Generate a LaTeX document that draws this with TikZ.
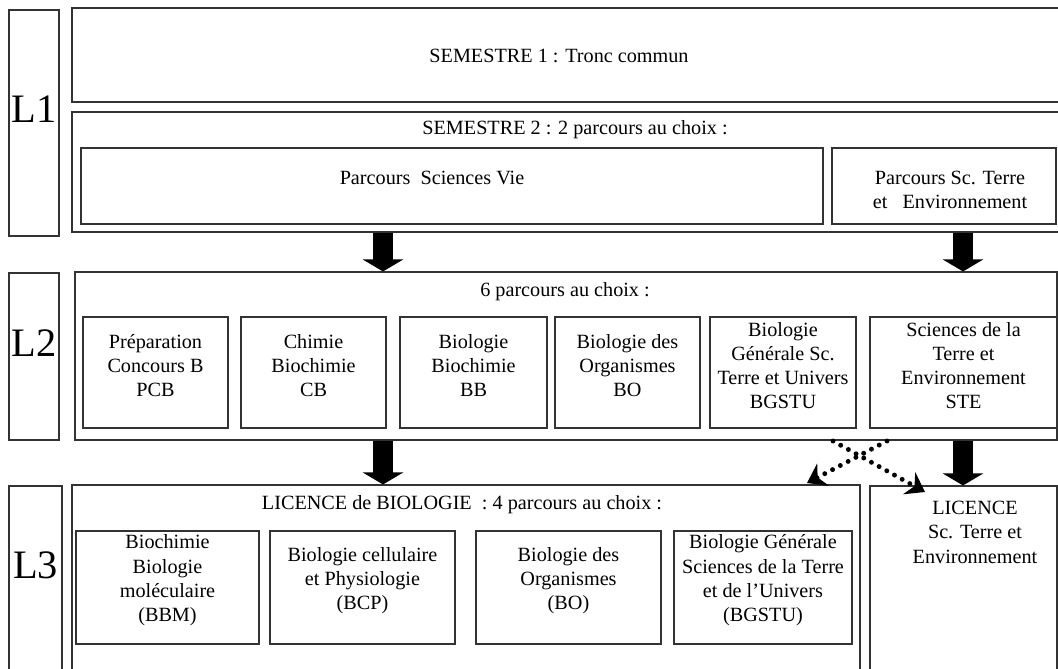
\documentclass[tikz,border=0pt]{standalone}
\usepackage{fontspec}
\setmainfont{Liberation Serif}
\usetikzlibrary{fit,arrows.meta}

\begin{document}
\begin{tikzpicture}[x=0.02cm,y=-0.02cm,
  cadre/.style={draw=black!80,line width=0.6pt,inner sep=0pt,align=center,
    font=\fontsize{11.5}{13.8}\selectfont},
  annee/.style={cadre,font=\fontsize{23}{26}\selectfont},
  titre/.style={inner sep=0pt,align=center,font=\fontsize{11.5}{13.8}\selectfont},
  grosse/.style={line width=0.4cm,-{Triangle[length=0.24cm,width=0.8cm]}},
  pointill/.style={line width=2.8pt,line cap=round,dash pattern=on 0pt off 5pt,
    -{Stealth[length=0.36cm,width=0.5cm,inset=0.12cm]}}]
  \useasboundingbox (0,0) rectangle (1058,669);
  \clip (0,0) rectangle (1058,669);
  % L1
  \node[annee,fit={(9,10) (59,236)}] (l1) {L1};
  \node[cadre,fit={(72,8) (1066,102)}] (sem1) {};
  \node[titre] (t1) at (559,56) {SEMESTRE 1 : Tronc commun};
  \node[cadre,fit={(72,112) (1066,232)}] (sem2) {};
  \node[titre] (t2) at (575,130) {SEMESTRE 2 : 2 parcours au choix :};
  \node[cadre,fit={(81,148) (823,224)}] (sv) {};
  \node[titre] (tsv) at (432,178) {Parcours~~Sciences Vie};
  \node[cadre,fit={(832,148) (1056,224)}] (stea) {};
  \node[titre] (tste) at (950,190) {Parcours Sc. Terre\\et~~~Environnement};
  % L2
  \node[annee,fit={(9,273) (59,440)}] (l2) {L2};
  \node[cadre,fit={(75,272) (1057,440)}] (l2box) {};
  \node[titre] (t3) at (565,292) {6 parcours au choix :};
  \node[cadre,fit={(83,317) (228,428)}] (pcb) {Préparation\\Concours B\\PCB};
  \node[cadre,fit={(241,317) (386,428)}] (cb) {Chimie\\Biochimie\\CB};
  \node[cadre,fit={(400,317) (547,428)}] (bb) {Biologie\\Biochimie\\BB};
  \node[cadre,fit={(555,317) (700,428)}] (bo) {Biologie des\\Organismes\\BO};
  \node[cadre,fit={(710,317) (856,428)}] (bgstu) {Biologie\\Générale Sc.\\Terre et Univers\\BGSTU};
  \node[cadre,fit={(870,317) (1057,428)}] (steb) {Sciences de la\\Terre et\\Environnement\\STE};
  % L3
  \node[annee,fit={(9,486) (62,672)}] (l3) {L3};
  \node[cadre,fit={(72,485) (860,672)}] (lic) {};
  \node[titre] (t4) at (462,505) {LICENCE de BIOLOGIE~~: 4 parcours au choix :};
  \node[cadre,fit={(870,486) (1057,672)}] (licste) {};
  \node[titre,anchor=north] (t5) at (975,501) {LICENCE\\Sc. Terre et\\Environnement};
  \node[cadre,fit={(76,531) (259,644)}] (bbm) {Biochimie\\Biologie\\moléculaire\\(BBM)};
  \node[cadre,fit={(270,531) (455,644)}] (bcp) {Biologie cellulaire\\et Physiologie\\(BCP)};
  \node[cadre,fit={(476,531) (661,644)}] (boc) {Biologie des\\Organismes\\(BO)};
  \node[cadre,fit={(674,531) (852,644)}] (bgstuc) {Biologie Générale\\Sciences de la Terre\\et de l’Univers\\(BGSTU)};
  % fleches
  \coordinate (xa) at (383,0);
  \coordinate (xb) at (963,0);
  \draw[grosse] (sem2.south -| xa) -- (l2box.north -| xa);
  \draw[grosse] (sem2.south -| xb) -- (l2box.north -| xb);
  \draw[grosse] (l2box.south -| xa) -- (lic.north -| xa);
  \draw[grosse] (l2box.south -| xb) -- (licste.north -| xb);
  \coordinate (da) at (833,441);
  \coordinate (db) at (887,441);
  \coordinate (fa) at (925,492);
  \coordinate (fb) at (807,483);
  \draw[pointill] (da) -- (fa);
  \draw[pointill] (db) -- (fb);
\end{tikzpicture}
\end{document}
